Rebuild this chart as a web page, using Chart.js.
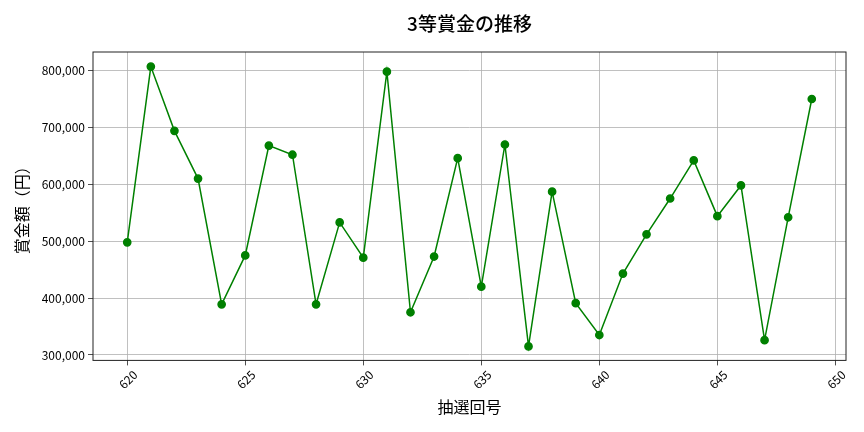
<!DOCTYPE html>
<html>
<head>
<meta charset="utf-8">
<script src="https://cdn.jsdelivr.net/npm/chart.js@4"></script>
<style>
  html, body { margin: 0; padding: 0; background: #fff; }
  #wrap { width: 864px; height: 432px; }
</style>
</head>
<body>
<div id="wrap"><canvas id="chart"></canvas></div>
<script>
    // --- Data ---
    const rounds = [620, 621, 622, 623, 624, 625, 626, 627, 628, 629,
                    630, 631, 632, 633, 634, 635, 636, 637, 638, 639,
                    640, 641, 642, 643, 644, 645, 646, 647, 648, 649];
    const prizes = [498000, 807000, 694000, 610000, 389000, 475000, 668000, 652000, 389000, 533000,
                    471000, 798000, 375000, 473000, 646000, 420000, 670000, 315000, 587000, 391000,
                    335000, 443000, 512000, 575000, 642000, 544000, 598000, 326000, 542000, 750000];
    const xTicks = [620, 625, 630, 635, 640, 645, 650];
    const yTicks = [300000, 400000, 500000, 600000, 700000, 800000];

    const titleText = '3等賞金の推移';
    const xTitle = '抽選回号';
    const yTitle = '賞金額（円）';
    const FONT = "'Noto Sans CJK JP', 'Noto Sans', sans-serif";

    // --- Plugins ---
    // 枠線とタイトル (matplotlib風)
    const frameAndTitle = {
        id: 'frameAndTitle',
        afterDraw(chart) {
            const { ctx, chartArea: a } = chart;
            ctx.save();
            ctx.strokeStyle = '#222';
            ctx.lineWidth = 1;
            ctx.strokeRect(a.left, a.top, a.right - a.left, a.bottom - a.top);
            ctx.fillStyle = '#000';
            ctx.font = `500 19px ${FONT}`;
            ctx.textAlign = 'center';
            ctx.textBaseline = 'middle';
            ctx.fillText(titleText, (a.left + a.right) / 2, 24);
            ctx.restore();
        }
    };

    const ctx = document.getElementById('chart').getContext('2d');
    new Chart(ctx, {
        type: 'line',
        data: {
            datasets: [{
                data: rounds.map((r, i) => ({ x: r, y: prizes[i] })),
                borderColor: '#008000',
                backgroundColor: '#008000',
                borderWidth: 1.5,
                pointRadius: 3.6,
                pointHoverRadius: 3.6,
                tension: 0
            }]
        },
        options: {
            responsive: true,
            maintainAspectRatio: false,
            animation: false,
            layout: { padding: { top: 52, right: 18, bottom: 11, left: 8 } },
            plugins: {
                legend: { display: false },
                tooltip: { enabled: false }
            },
            scales: {
                x: {
                    type: 'linear',
                    min: 618.55,
                    max: 650.45,
                    afterBuildTicks: axis => { axis.ticks = xTicks.map(v => ({ value: v })); },
                    afterFit: scale => { scale.height = 60.6; },
                    border: { display: false },
                    grid: { color: '#b0b0b0', lineWidth: 0.8, tickColor: '#222', tickLength: 5 },
                    ticks: {
                        color: '#000',
                        font: { family: FONT, size: 12 },
                        maxRotation: 45,
                        minRotation: 45,
                        padding: 2,
                        labelOffset: 8,
                        callback: v => String(v)
                    },
                    title: {
                        display: true,
                        text: xTitle,
                        color: '#000',
                        font: { family: FONT, size: 16 },
                        padding: { top: 4, bottom: 4 }
                    }
                },
                y: {
                    min: 290400,
                    max: 832600,
                    afterBuildTicks: axis => { axis.ticks = yTicks.map(v => ({ value: v })); },
                    afterFit: scale => { scale.width = 85; },
                    border: { display: false },
                    grid: { color: '#b0b0b0', lineWidth: 0.8, tickColor: '#222', tickLength: 5 },
                    ticks: {
                        color: '#000',
                        font: { family: FONT, size: 12 },
                        padding: 3,
                        callback: v => v.toLocaleString('en-US')
                    },
                    title: {
                        display: true,
                        text: yTitle,
                        color: '#000',
                        font: { family: FONT, size: 16 },
                        padding: { top: 4, bottom: 4 }
                    }
                }
            }
        },
        plugins: [frameAndTitle]
    });
</script>
</body>
</html>
